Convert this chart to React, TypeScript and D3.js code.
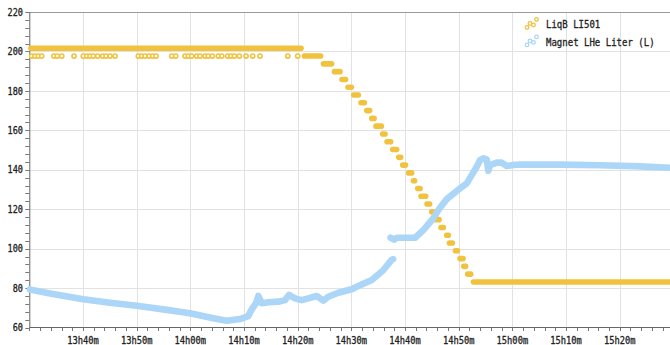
import React from 'react';
import * as d3 from 'd3';

const W = 670;
const H = 345;
const T0 = new Date(2024, 0, 1, 13, 30, 0);
const T1 = new Date(2024, 0, 1, 15, 30, 0);

// axis ticks
const yTickValues = [60, 80, 100, 120, 140, 160, 180, 200, 220];
const xTickMinutes = [10, 20, 30, 40, 50, 60, 70, 80, 90, 100, 110];
const xTickLabels = ['13h40m', '13h50m', '14h00m', '14h10m', '14h20m', '14h30m', '14h40m', '14h50m', '15h00m', '15h10m', '15h20m'];

// LiqB LI501: quantised level readings, grouped into runs (minutes after 13:30)
const liqbLevels = [
  201.6, 197.65, 193.7, 189.75, 185.8, 181.85, 177.9, 173.95, 170.0, 166.05, 162.1,
  158.15, 154.2, 150.25, 146.3, 142.35, 138.4, 134.45, 130.5, 126.55, 122.6,
  118.65, 114.7, 110.75, 106.8, 102.85, 98.9, 94.95, 91.0, 87.05, 83.1,
];
const liqbRunStart = [
  0.3, 51.26, 54.8, 56.85, 58.26, 59.38, 60.44, 61.8, 62.87, 63.8, 64.6,
  65.85, 66.65, 67.71, 68.83, 69.57, 70.69, 71.57, 72.37, 72.98, 74.1,
  74.98, 75.78, 76.71, 77.77, 78.27, 79.39, 80.25, 80.94, 81.69, 82.75,
];
const liqbRunEnd = [
  50.63, 54.28, 56.33, 57.89, 58.93, 60.0, 61.3, 62.42, 63.41, 64.23, 65.59,
  66.28, 67.32, 68.44, 69.18, 70.11, 71.23, 71.79, 72.8, 73.84, 74.59,
  75.28, 76.34, 77.14, 78.07, 78.81, 79.75, 80.81, 81.29, 82.23, 120.5,
];
// single low readings before the level starts to fall
const liqbLowLevel = 197.65;
const liqbLowMinutes = [
  0.45, 1.06, 1.68, 2.31, 4.6, 5.22, 6.04, 8.33, 10.06, 10.7, 11.31, 11.92, 12.74,
  13.68, 14.29, 15.04, 15.97, 20.31, 20.94, 21.56, 22.3, 22.99, 23.61, 26.53, 27.28,
  29.01, 29.63, 30.26, 31.19, 31.81, 32.74, 33.35, 34.1, 35.22, 35.85, 36.97, 37.58,
  38.2, 39.13, 40.38, 41.62, 42.98, 48.15, 50.01,
];

// Magnet LHe Liter (L): readings, null marks the jump between two runs
const magnetMinutes = [
  0.1, 3.86, 10.06, 15.04, 20.01, 24.97, 29.94, 34.28, 36.78, 39.26, 40.81,
  41.44, 42.24, 42.67, 43.3, 44.53, 46.39, 47.64, 48.39, 49.51, 50.75, 51.98,
  53.55, 54.78, 55.71, 57.57, 60.07, 61.3, 63.8, 65.9, 67.49, 67.77,
  67.5,
  67.3, 67.95, 68.5, 71.87, 73.41, 75.28, 76.21, 77.77, 80.0, 81.5, 83.36, 83.98,
  84.59, 85.22, 85.52, 85.84, 87.09, 88.02, 88.95, 90.18, 91.43, 98.9, 106.4,
  113.8, 120.5,
];
const magnetLiters = [
  79.3, 77.3, 74.3, 72.6, 71.0, 69.2, 67.2, 64.7, 63.4, 64.3, 65.8,
  69.2, 72.4, 76.0, 72.3, 72.8, 73.1, 73.9, 76.5, 74.8, 73.9, 74.8,
  76.0, 73.6, 75.6, 77.6, 79.4, 81.0, 84.1, 88.9, 94.3, 94.7,
  null,
  105.5, 104.6, 105.5, 105.5, 109.4, 115.4, 119.6, 125.1, 130.0, 133.1, 141.5, 144.9,
  145.8, 145.3, 139.5, 142.4, 143.6, 143.6, 141.9, 142.4, 142.7, 142.6, 142.3,
  141.7, 140.9,
];

const seriesNames = ['LiqB LI501', 'Magnet LHe Liter (L)'];
const YELLOW = '#f0c23e';
const BLUE = '#acd6f7';

const at = (m: number) => new Date(T0.getTime() + m * 60000);

const margin = { left: 29.3, top: 12, bottom: 327.5, right: 673.4 };
const x = d3.scaleTime().domain([T0, T1]).range([margin.left, margin.right]);
const y = d3.scaleLinear().domain([60, 220]).range([margin.bottom, margin.top]);

const FONT = 'DejaVu Sans Mono';

// condensed monospace label: drawn at natural size, squeezed horizontally
function Label(props: { x: number; y: number; text: string; anchor: string; sx: number; size: number }) {
  return (
    <g transform={`translate(${props.x},${props.y}) scale(${props.sx},1)`}>
      <text
        x={0}
        y={0}
        textAnchor={props.anchor}
        fontFamily={FONT}
        fontSize={props.size}
        fill="#222"
        stroke="#222"
        strokeWidth={0.3}
      >
        {props.text}
      </text>
    </g>
  );
}

export default function App() {
  const minorX = x.ticks(d3.timeMinute.every(2) as any);
  const minorY = d3.range(60, 221, 4);

  const magnetData = magnetMinutes.map((m, i) => ({ t: at(m), v: magnetLiters[i] }));
  const magnetLine = d3
    .line<{ t: Date; v: number | null }>()
    .defined((d) => d.v !== null)
    .x((d) => x(d.t))
    .y((d) => y(d.v as number));

  const legendRings = [
    [0, 8],
    [3, 4],
    [6.5, 5.5],
    [9.5, 0],
  ];

  return (
    <svg width={W} height={H} style={{ position: 'absolute', left: 0, top: 0, background: '#fff' }}>
      {/* grid */}
      <g stroke="#e2e2e2" strokeWidth={1}>
        {yTickValues.slice(1, -1).map((v) => (
          <line key={'gy' + v} x1={margin.left} x2={W} y1={Math.round(y(v)) + 0.5} y2={Math.round(y(v)) + 0.5} />
        ))}
        {xTickMinutes.map((m) => (
          <line key={'gx' + m} x1={Math.round(x(at(m))) + 0.5} x2={Math.round(x(at(m))) + 0.5} y1={margin.top} y2={margin.bottom} />
        ))}
      </g>
      {/* frame */}
      <line x1={margin.left} x2={W} y1={margin.top + 0.5} y2={margin.top + 0.5} stroke="#9a9a9a" />
      <line x1={margin.left + 0.5} x2={margin.left + 0.5} y1={margin.top} y2={margin.bottom} stroke="#666" />
      <line x1={margin.left} x2={W} y1={margin.bottom} y2={margin.bottom} stroke="#666" />
      {/* minor ticks */}
      <g stroke="#777" strokeWidth={1}>
        {minorX.map((t, i) => (
          <line key={'tx' + i} x1={Math.round(x(t)) + 0.5} x2={Math.round(x(t)) + 0.5} y1={margin.bottom} y2={margin.bottom + 3.5} />
        ))}
        {minorY.map((v) => (
          <line key={'ty' + v} x1={margin.left - 4} x2={margin.left} y1={Math.round(y(v)) + 0.5} y2={Math.round(y(v)) + 0.5} />
        ))}
      </g>
      {/* tick labels */}
      {yTickValues.map((v) => (
        <Label key={'ly' + v} x={23} y={y(v) + 3.7} text={String(v)} anchor="end" sx={0.855} size={10} />
      ))}
      {xTickMinutes.map((m, i) => (
        <Label key={'lx' + m} x={x(at(m))} y={343.5} text={xTickLabels[i]} anchor="middle" sx={0.875} size={10} />
      ))}

      {/* LiqB LI501 */}
      <g stroke={YELLOW} strokeLinecap="round">
        {liqbLevels.map((lv, i) => (
          <line
            key={'run' + i}
            x1={x(at(liqbRunStart[i]))}
            x2={x(at(liqbRunEnd[i]))}
            y1={y(lv)}
            y2={y(lv)}
            strokeWidth={5.6}
          />
        ))}
        {liqbLowMinutes.map((m, i) => (
          <circle key={'low' + i} cx={x(at(m))} cy={y(liqbLowLevel)} r={2.1} fill="#fff" strokeWidth={1.6} />
        ))}
      </g>

      {/* Magnet LHe Liter (L) */}
      <path
        d={magnetLine(magnetData as any) || ''}
        fill="none"
        stroke={BLUE}
        strokeWidth={6.6}
        strokeLinecap="round"
        strokeLinejoin="round"
      />

      {/* legend */}
      {seriesNames.map((name, i) => {
        const cy = 24.5 + i * 17.4;
        const col = i === 0 ? YELLOW : BLUE;
        return (
          <g key={'lg' + i}>
            {legendRings.map((p, j) => (
              <circle key={j} cx={527 + p[0]} cy={cy - 5 + p[1]} r={1.8} fill="#fff" stroke={col} strokeWidth={1.3} />
            ))}
            <Label x={546} y={cy + 3.8} text={name} anchor="start" sx={0.86} size={10.5} />
          </g>
        );
      })}
    </svg>
  );
}
